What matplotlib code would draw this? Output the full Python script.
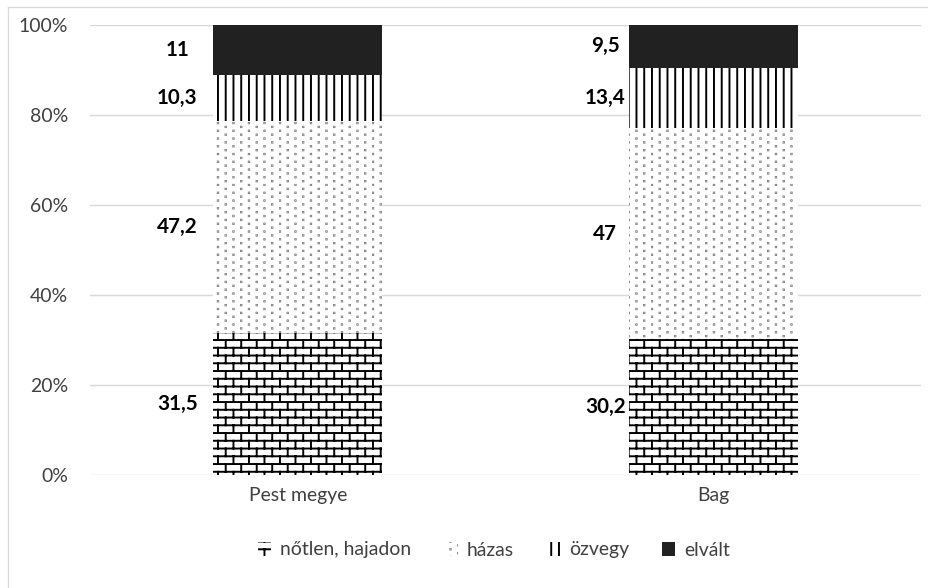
import warnings
import numpy as np
import matplotlib
matplotlib.use('Agg')
import matplotlib.pyplot as plt
from matplotlib import hatch as mhatch
from matplotlib.path import Path
from matplotlib.lines import Line2D

warnings.filterwarnings('ignore')

# data
categories = ['Pest megye', 'Bag']
series = ['nőtlen, hajadon', 'házas', 'özvegy', 'elvált']
notlen = [31.5, 30.2]
hazas = [47.2, 47.0]
ozvegy = [10.3, 13.4]
elvalt = [11.0, 9.5]

label_dx = [-0.29, -0.26]   # where the value labels sit, left of the bars

# excel-like pattern fills as custom hatches: 'b' brick, 'd' dots, 'v' vertical lines
N = 6            # pattern cells per hatch unit
S = 1.0 / (8*N)  # one pattern "pixel"
O = 0.5 * S


class ExcelHatch(mhatch.HatchPatternBase):
    def __init__(self, hatch, density):
        verts = []
        codes = []

        def seg(x0, y0, x1, y1):
            verts.extend([(x0, y0), (x1, y1)])
            codes.extend([Path.MOVETO, Path.LINETO])

        if 'b' in hatch:
            for k in range(2*N):
                y = k*4*S + O
                seg(0, y, 1, y)
            for k in range(-1, 2*N):
                y = k*4*S + O
                for j in range(N):
                    x = j*8*S + (k % 2)*4*S + O
                    seg(x, y, x, y + 4*S)
        if 'v' in hatch:
            for k in range(2*N):
                x = k*4*S + O
                seg(x, 0, x, 1)
        if 'd' in hatch:
            d = 0.1*S
            for r in range(4*N):
                y = r*2*S + O
                for j in range(N):
                    x = j*8*S + (r % 2)*4*S + O
                    verts.extend([(x-d, y-d), (x+d, y-d), (x+d, y+d), (x-d, y+d), (x-d, y-d)])
                    codes.extend([Path.MOVETO, Path.LINETO, Path.LINETO, Path.LINETO, Path.CLOSEPOLY])
        self.verts = np.array(verts, dtype=float).reshape(-1, 2)
        self.codes = np.array(codes, dtype=Path.code_type)
        self.num_vertices = len(self.verts)

    def set_vertices_and_codes(self, vertices, codes):
        vertices[:] = self.verts
        codes[:] = self.codes


mhatch._hatch_types.append(ExcelHatch)

plt.rcParams['font.family'] = ['Lato', 'DejaVu Sans']
plt.rcParams['hatch.linewidth'] = 1.5

data = np.array([notlen, hazas, ozvegy, elvalt])
pct = data / data.sum(axis=0) * 100

fig = plt.figure(figsize=(929/93, 588/93), dpi=93)
ax = fig.add_axes([90/929, 1-475/588, 831/929, 450/588])

x = np.arange(len(categories))
hatches = ['b', 'd', 'v', None]
colors = ['white', 'white', 'white', '#212121']
hcolors = ['black', '#7c7c7c', 'black', '#212121']
bottom = np.zeros(len(categories))
bars = []
for i in range(len(series)):
    b = ax.bar(x, pct[i], 0.407, bottom=bottom, color=colors[i], edgecolor=hcolors[i],
               linewidth=0, hatch=hatches[i], label=series[i], zorder=3)
    bars.append(b)
    for j in range(len(categories)):
        txt = '{:g}'.format(data[i][j]).replace('.', ',')
        ax.text(x[j] + label_dx[j], bottom[j] + pct[i][j]/2, txt, ha='center', va='center',
                fontsize=16, fontweight='bold', color='black')
    bottom += pct[i]

ax.set_xlim(-0.5, 1.5)
ax.set_ylim(0, 100)
ax.set_yticks(np.arange(0, 101, 20))
ax.set_yticklabels(['{}%'.format(v) for v in range(0, 101, 20)])
ax.set_xticks(x)
ax.set_xticklabels(categories)
ax.tick_params(length=0, labelsize=15, labelcolor='#404040')
ax.tick_params(axis='y', pad=17)
ax.tick_params(axis='x', pad=9)
ax.grid(axis='y', color='#d9d9d9', linewidth=1.1, zorder=0)
for s in ax.spines.values():
    s.set_visible(False)

leg = fig.legend(handles=bars, labels=series, loc='center', bbox_to_anchor=(494/929, 1-550/588),
                 ncol=4, frameon=False, fontsize=15, handlelength=0.7, handleheight=0.7,
                 handletextpad=0.45, columnspacing=1.7)
for t in leg.get_texts():
    t.set_color('#404040')

# thin frame round the chart area (left and top edges visible)
fig.add_artist(Line2D([8/929, 8/929], [0, 1-7/588], transform=fig.transFigure, color='#d9d9d9', lw=1))
fig.add_artist(Line2D([8/929, 1], [1-7/588, 1-7/588], transform=fig.transFigure, color='#d9d9d9', lw=1))

fig.savefig('out.png', dpi=93, facecolor='white')
